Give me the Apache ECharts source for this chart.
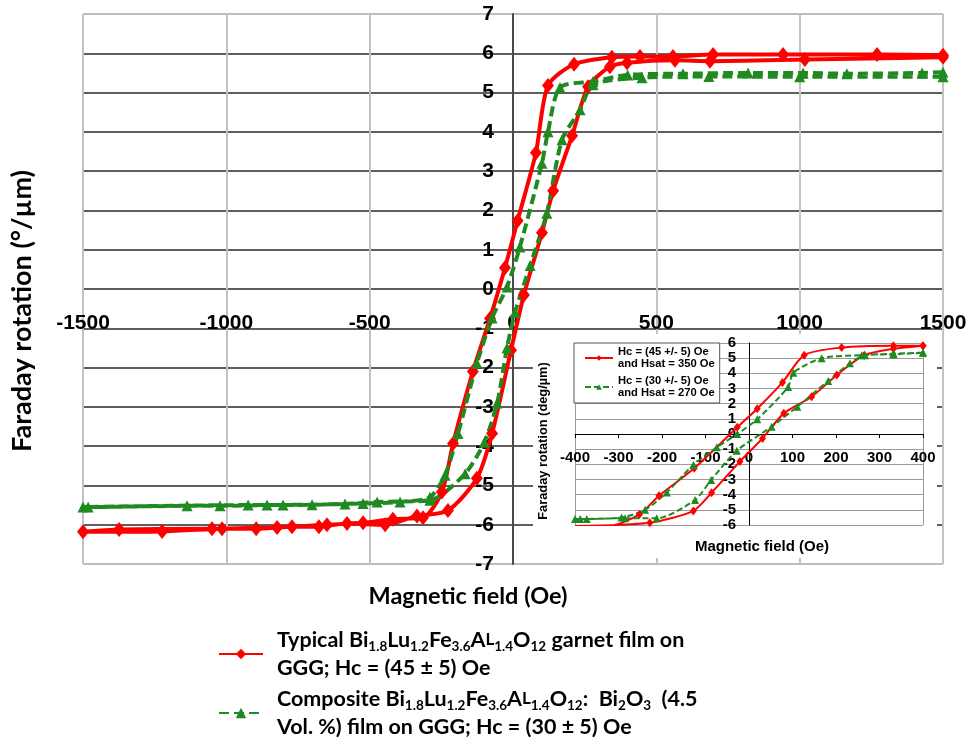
<!DOCTYPE html>
<html><head><meta charset="utf-8">
<script src="https://cdn.jsdelivr.net/npm/echarts/dist/echarts.min.js"></script>
<style>html,body{margin:0;padding:0;background:#fff}#c{width:970px;height:743px}</style>
</head><body><div id="c"></div>
<script>
// ---- tick values ----
const mainXTicks = [-1500, -1000, -500, 0, 500, 1000, 1500];
const mainYTicks = [-7, -6, -5, -4, -3, -2, -1, 0, 1, 2, 3, 4, 5, 6, 7];
const insetXTicks = [-400, -300, -200, -100, 0, 100, 200, 300, 400];
const insetYTicks = [-6, -5, -4, -3, -2, -1, 0, 1, 2, 3, 4, 5, 6];

// ---- main chart: typical garnet film (red), loop order: descending branch then ascending ----
const mainRed = [
  [1500, 5.95], [1270, 5.97], [942, 5.97], [698, 5.97], [558, 5.92], [443, 5.92], [345, 5.9],
  [213, 5.72], [122, 5.18], [80, 3.47], [16, 1.74], [-28, 0.54], [-80, -0.75], [-140, -2.1],
  [-209, -3.93], [-248, -5.17], [-314, -5.82], [-419, -5.86], [-523, -5.95], [-649, -6.0],
  [-823, -6.07], [-1015, -6.1], [-1224, -6.17], [-1500, -6.18],
  [-1374, -6.12], [-1050, -6.1], [-896, -6.1], [-771, -6.05], [-677, -6.05], [-579, -5.97],
  [-446, -6.0], [-335, -5.78], [-227, -5.64], [-126, -4.82], [-73, -3.68], [-7, -1.56],
  [38, -0.15], [101, 1.43], [140, 2.5], [206, 3.9], [262, 5.15], [338, 5.66], [398, 5.76],
  [565, 5.82], [687, 5.8], [1018, 5.84], [1500, 5.9]
];
// ---- main chart: composite film (green) ----
const mainGreen = [
  [1500, 5.52], [1427, 5.5], [1165, 5.48], [1012, 5.5], [820, 5.5], [593, 5.48], [400, 5.45],
  [279, 5.28], [164, 5.13], [122, 4.0], [101, 3.2], [24, 1.07], [-21, 0.05], [-73, -0.74],
  [-126, -1.89], [-192, -3.68], [-237, -4.74], [-290, -5.3], [-394, -5.42], [-523, -5.46],
  [-701, -5.49], [-858, -5.5], [-1022, -5.52], [-1137, -5.52], [-1482, -5.55], [-1500, -5.55],
  [-924, -5.5], [-802, -5.5], [-586, -5.47], [-474, -5.42], [-290, -5.38], [-167, -4.7],
  [-100, -3.9], [-55, -2.9], [-21, -1.5], [7, -0.6], [60, 0.6], [118, 1.93], [171, 3.8],
  [234, 4.56], [279, 5.2], [450, 5.38], [683, 5.41], [1000, 5.4], [1500, 5.4]
];
// ---- inset: typical (red) ----
const insetRed = [
  [400, 5.82], [332, 5.82], [213, 5.7], [127, 5.2], [77, 3.4], [19, 1.67], [-27, 0.44],
  [-126, -2.26], [-207, -4.07], [-252, -5.3], [-320, -6.05], [-340, -6.05], [-400, -6.07],
  [-228, -5.85], [-128, -5.07], [-86, -3.87], [-21, -1.82], [31, -0.29], [80, 1.36],
  [144, 2.46], [202, 3.89], [265, 5.2], [332, 5.62], [400, 5.82]
];
// ---- inset: composite (green) ----
const insetGreen = [
  [400, 5.36], [332, 5.3], [259, 5.2], [167, 5.0], [102, 4.04], [90, 3.1], [19, 0.97],
  [-27, 0.0], [-74, -0.88], [-128, -2.04], [-189, -3.85], [-239, -5.0], [-293, -5.5],
  [-388, -5.6], [-400, -5.6],
  [-373, -5.6], [-285, -5.55], [-212, -5.56], [-124, -4.35], [-87, -3.03], [-28, -1.1],
  [52, 0.48], [111, 1.8], [182, 3.5], [232, 4.66], [267, 5.2], [332, 5.25], [400, 5.36]
];

const RED = '#ff0000';
const GREEN = '#1f8a1f';
const ARIAL = 'Liberation Sans, Arial, sans-serif';
const CAL = 'Lato, sans-serif';

const legendTexts = {
  typical: '{n|Typical Bi}{s|1.8}{n|Lu}{s|1.2}{n|Fe}{s|3.6}{n|A}{c|L}{s|1.4}{n|O}{s|12}{n| garnet film on}\n{n|GGG; Hc = (45 ± 5) Oe}',
  composite: '{n|Composite Bi}{s|1.8}{n|Lu}{s|1.2}{n|Fe}{s|3.6}{n|A}{c|L}{s|1.4}{n|O}{s|12}{n|:  Bi}{s|2}{n|O}{s|3}{n|  (4.5}\n{n|Vol. %) film on GGG; Hc = (30 ± 5) Oe}',
  insetTypical: 'Hc = (45 +/- 5) Oe\nand Hsat = 350 Oe',
  insetComposite: 'Hc = (30 +/- 5) Oe\nand Hsat = 270 Oe'
};
const legendRich = {
  n: { fontFamily: CAL, fontWeight: 'bold', fontSize: 21.5, lineHeight: 28, color: '#000' },
  s: { fontFamily: CAL, fontWeight: 'bold', fontSize: 13.5, lineHeight: 15, verticalAlign: 'bottom', color: '#000' },
  c: { fontFamily: CAL, fontWeight: 'bold', fontSize: 17, lineHeight: 28, color: '#000' }
};

const step = a => a[1] - a[0];
const plain = v => String(v);
const mainYSplitColors = mainYTicks.map((v, i) => (i === 0 || i === mainYTicks.length - 1) ? '#bdbdbd' : '#5e5e5e');
const insetXSplitColors = insetXTicks.map((v, i) => (i === 0 || i === insetXTicks.length - 1) ? '#9a9a9a' : 'rgba(0,0,0,0)');

// grid geometry
const G0 = { left: 83, top: 14, width: 860, height: 550 };
const G1 = { left: 575, top: 343, width: 348, height: 182 };
// axis crossings (data values where the other axis sits)
const mainXAxisAt = -1;   // horizontal axis crosses at y = -1
const mainYAxisAt = 0;    // vertical axis at x = 0
const insetXAxisAt = 0;
const insetYAxisAt = 0;
const yOff = (g, ticks, v) => -(g.height * (v - ticks[0]) / (ticks[ticks.length - 1] - ticks[0]));
const xOff = (g, ticks, v) => -(g.width * (v - ticks[0]) / (ticks[ticks.length - 1] - ticks[0]));

const chart = echarts.init(document.getElementById('c'), null, { renderer: 'canvas' });
chart.setOption({
  animation: false,
  backgroundColor: '#fff',
  grid: [G0, G1],
  xAxis: [
    {
      type: 'value', gridIndex: 0, min: mainXTicks[0], max: mainXTicks[mainXTicks.length - 1], interval: step(mainXTicks),
      position: 'bottom', offset: yOff(G0, mainYTicks, mainXAxisAt),
      axisLine: { show: false, onZero: false }, axisTick: { show: false },
      axisLabel: { margin: -5, verticalAlign: 'middle', fontSize: 21, fontWeight: 'bold', fontFamily: ARIAL, color: '#000', showMinLabel: true, showMaxLabel: true, formatter: plain },
      splitLine: { show: true, lineStyle: { color: '#c2c2c2', width: 2 } }
    },
    {
      type: 'value', gridIndex: 1, min: insetXTicks[0], max: insetXTicks[insetXTicks.length - 1], interval: step(insetXTicks),
      z: 4, position: 'bottom', offset: yOff(G1, insetYTicks, insetXAxisAt),
      axisLine: { onZero: false, lineStyle: { color: '#000', width: 1 } },
      axisTick: { show: true, length: 4, lineStyle: { color: '#000' } },
      axisLabel: { margin: 16, fontSize: 15, fontWeight: 'bold', fontFamily: ARIAL, color: '#000', showMinLabel: true, showMaxLabel: true, formatter: plain },
      splitLine: { show: true, lineStyle: { color: insetXSplitColors, width: 1 } }
    }
  ],
  yAxis: [
    {
      type: 'value', gridIndex: 0, min: mainYTicks[0], max: mainYTicks[mainYTicks.length - 1], interval: step(mainYTicks),
      position: 'left', offset: xOff(G0, mainXTicks, mainYAxisAt),
      axisLine: { show: true, onZero: false, lineStyle: { color: '#4a4a4a', width: 2 } }, axisTick: { show: false },
      axisLabel: { margin: 19, fontSize: 21, fontWeight: 'bold', fontFamily: ARIAL, color: '#000', formatter: plain },
      splitLine: { show: true, lineStyle: { color: mainYSplitColors, width: 2 } }
    },
    {
      type: 'value', gridIndex: 1, min: insetYTicks[0], max: insetYTicks[insetYTicks.length - 1], interval: step(insetYTicks),
      z: 4, position: 'left', offset: xOff(G1, insetXTicks, insetYAxisAt),
      axisLine: { show: true, onZero: false, lineStyle: { color: '#000', width: 1 } }, axisTick: { show: false },
      axisLabel: { margin: 13, fontSize: 15, fontWeight: 'bold', fontFamily: ARIAL, color: '#000', formatter: plain },
      splitLine: { show: true, lineStyle: { color: '#9a9a9a', width: 1 } }
    }
  ],
  legend: [
    {
      left: 218, top: 629, orient: 'vertical', padding: 0, itemGap: 9, itemWidth: 44, itemHeight: 13,
      data: ['typical', 'composite'],
      formatter: n => legendTexts[n],
      textStyle: { rich: legendRich, padding: [0, 0, 0, 9] }
    },
    {
      left: 574, top: 343, orient: 'vertical', padding: [3, 5, 4, 10], itemGap: 5, itemWidth: 28, itemHeight: 7,
      borderColor: '#555', borderWidth: 1, backgroundColor: '#fff', z: 6,
      data: ['insetTypical', 'insetComposite'],
      formatter: n => legendTexts[n],
      textStyle: { fontFamily: ARIAL, fontWeight: 'bold', fontSize: 11.2, lineHeight: 12, color: '#000' }
    }
  ],
  series: [
    {
      name: 'typical', type: 'line', xAxisIndex: 0, yAxisIndex: 0, data: mainRed, smooth: 0.25,
      symbol: 'diamond', symbolSize: [12, 15], lineStyle: { color: RED, width: 4 }, itemStyle: { color: RED }, z: 2
    },
    {
      name: 'composite', type: 'line', xAxisIndex: 0, yAxisIndex: 0, data: mainGreen, smooth: 0.25,
      symbol: 'triangle', symbolSize: 11, lineStyle: { color: GREEN, width: 4, type: [10, 5] }, itemStyle: { color: GREEN }, z: 2
    },
    {
      name: 'insetTypical', type: 'line', xAxisIndex: 1, yAxisIndex: 1, data: insetRed, smooth: 0.25,
      symbol: 'diamond', symbolSize: [7, 9], lineStyle: { color: RED, width: 2 }, itemStyle: { color: RED }, z: 5
    },
    {
      name: 'insetComposite', type: 'line', xAxisIndex: 1, yAxisIndex: 1, data: insetGreen, smooth: 0.25,
      symbol: 'triangle', symbolSize: 8, lineStyle: { color: GREEN, width: 2, type: [6, 3] }, itemStyle: { color: GREEN }, z: 5
    }
  ],
  graphic: [
    { type: 'rect', z: 3, shape: { x: 533, y: 334, width: 404, height: 224 }, style: { fill: '#fff' } },
    { type: 'text', z: 4, x: 22, y: 311, rotation: Math.PI / 2,
      style: { text: 'Faraday rotation (°/µm)', fontFamily: CAL, fontWeight: 'bold', fontSize: 27, fill: '#000', align: 'center', verticalAlign: 'middle' } },
    { type: 'text', z: 4, x: 468, y: 596,
      style: { text: 'Magnetic field (Oe)', fontFamily: CAL, fontWeight: 'bold', fontSize: 23.5, fill: '#000', align: 'center', verticalAlign: 'middle' } },
    { type: 'text', z: 4, x: 543, y: 441, rotation: Math.PI / 2,
      style: { text: 'Faraday rotation (deg/µm)', fontFamily: ARIAL, fontWeight: 'bold', fontSize: 12.8, fill: '#000', align: 'center', verticalAlign: 'middle' } },
    { type: 'text', z: 4, x: 762, y: 547,
      style: { text: 'Magnetic field (Oe)', fontFamily: ARIAL, fontWeight: 'bold', fontSize: 15, fill: '#000', align: 'center', verticalAlign: 'middle' } }
  ]
});
</script>
</body></html>
